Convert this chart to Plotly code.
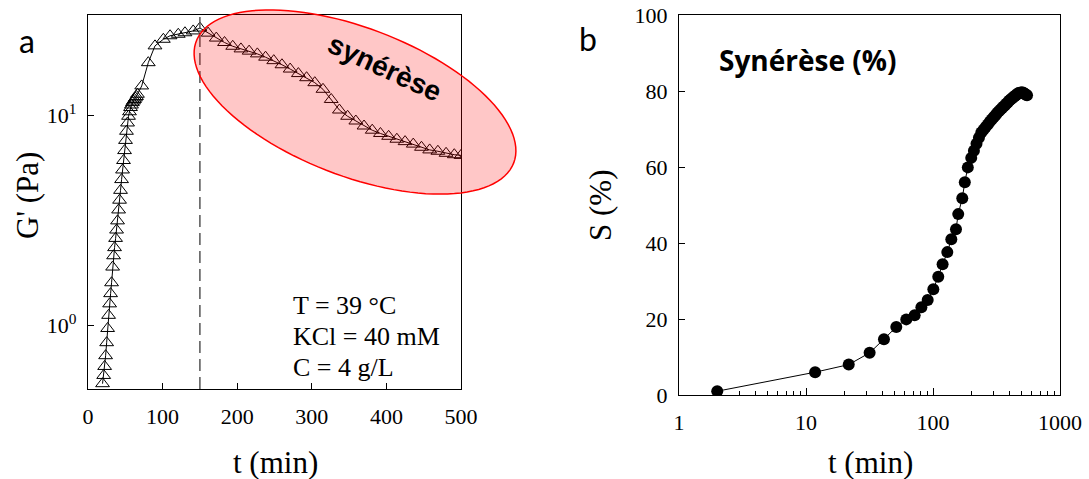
import numpy as np
import plotly.graph_objects as go

# ---- (a) storage modulus G' versus time ----
t_gel = [19.5, 21, 22.3, 23.6, 25, 26.3, 27.6, 29, 30.3, 31.6, 33, 34.3, 35.6, 37,
         38.3, 39.6, 41, 42.3, 43.6, 45, 46.3, 47.6, 49, 50.3, 51.6, 53, 54.3, 55.6,
         57, 58.3, 59.6, 61, 62.3, 63.6, 65, 66.3,
         72, 80.8, 89.8, 101, 110, 121, 130, 141, 150,
         161, 172, 183, 194, 205, 216, 227, 238, 249, 260, 271, 282, 293, 304, 315,
         326, 337, 348, 359, 370, 381, 392, 403, 414, 425, 436, 447, 458, 469, 480,
         491, 500]
g_prime = [0.53, 0.58, 0.64, 0.72, 0.83, 0.97, 1.12, 1.27, 1.42, 1.6, 1.9, 2.15, 2.35, 2.6,
           2.85, 3.15, 3.55, 3.95, 4.4, 4.95, 5.5, 6.1, 6.8, 7.6, 8.4, 9.2, 9.9, 10.4,
           10.9, 11.2, 11.5, 11.7, 11.9, 12.1, 12.3, 12.6,
           13.8, 17.8, 21.4, 23.0, 23.9, 24.3, 24.7, 25.2, 26.0,
           24.6, 23.3, 22.2, 21.3, 20.7, 20.2, 19.6, 18.9, 18.2, 17.4, 16.6, 15.8, 15.1, 14.3, 13.3,
           11.9, 10.6, 9.9, 9.4, 8.9, 8.5, 8.2, 7.95, 7.7, 7.5, 7.3, 7.05, 6.85, 6.75, 6.6,
           6.5, 6.45]
t_onset = 150
x_ticks_a = [0, 100, 200, 300, 400, 500]
y_ticks_a = [1, 10]
y_ticktext_a = ["10<sup>0</sup>", "10<sup>1</sup>"]

# ---- (b) syneresis versus time ----
t_syn = [2, 11.8, 21.7, 31.7, 41.1, 51.4, 61.6, 71.7, 81, 90.8, 100.6, 110, 119, 129.6,
         139.4, 151.7, 158, 170, 178, 188,
         200, 210, 220, 230, 240, 250, 260, 270, 280, 290, 300, 310, 320, 330, 340, 350,
         360, 370, 380, 390, 400, 410, 420, 430, 440, 450, 460, 470, 480, 490, 500, 510,
         520, 530, 540, 550]
s_syn = [1.0, 6.0, 8.0, 11.1, 14.7, 17.9, 19.9, 21.0, 23.1, 25.0, 27.8, 31.1, 34.4, 37.6,
         41.0, 43.6, 47.6, 51.8, 56.0, 59.9,
         62.4, 64.3, 66.1, 67.7, 69.1, 69.8, 70.5, 71.2, 71.9, 72.5, 73.1, 73.6, 74.2, 74.7,
         75.1, 75.5, 75.9, 76.3, 76.7, 77.1, 77.5, 77.8, 78.1, 78.4, 78.7, 78.9, 79.2, 79.4,
         79.5, 79.6, 79.6, 79.6, 79.4, 79.2, 79.0, 78.9]
x_ticks_b = [1, 10, 100, 1000]
x_minor_b = [m * d for d in (1, 10, 100) for m in range(2, 10)]
y_ticks_b = [0, 20, 40, 60, 80, 100]

W, H = 1089, 479
SERIF = "Liberation Serif"


def px(x):
    return x / W


def py(y):
    return 1 - y / H


fig = go.Figure()

fig.add_trace(go.Scatter(
    x=t_gel, y=g_prime, mode="lines+markers", xaxis="x", yaxis="y",
    line=dict(color="black", width=1),
    marker=dict(symbol="triangle-up-open", size=12, color="black",
                line=dict(color="black", width=1)),
    showlegend=False,
))

fig.add_trace(go.Scatter(
    x=t_syn, y=s_syn, mode="lines+markers", xaxis="x2", yaxis="y2",
    line=dict(color="black", width=1),
    marker=dict(symbol="circle", size=12, color="black"),
    showlegend=False,
))

axis_common = dict(
    showline=True, linecolor="black", linewidth=1.2, mirror=True,
    ticks="inside", tickcolor="black", tickwidth=1,
    showgrid=False, zeroline=False, automargin=False,
    tickfont=dict(family=SERIF, size=22, color="black"),
)

fig.update_layout(
    width=W, height=H,
    margin=dict(l=0, r=0, t=0, b=0, autoexpand=False),
    paper_bgcolor="white", plot_bgcolor="white",
    xaxis=dict(axis_common, domain=[px(88), px(461)], range=[0, 500],
               tickmode="array", tickvals=x_ticks_a, ticklen=6,
               ticklabelstandoff=7, anchor="y"),
    yaxis=dict(axis_common, domain=[py(389), py(15)], type="log",
               range=[np.log10(0.5), np.log10(30)],
               tickmode="array", tickvals=y_ticks_a, ticktext=y_ticktext_a,
               ticklen=6, ticklabelstandoff=6, anchor="x"),
    xaxis2=dict(axis_common, domain=[px(679), px(1060)], type="log",
                range=[0, 3], tickmode="array", tickvals=x_ticks_b, ticklen=7,
                minor=dict(tickvals=x_minor_b, ticks="inside", ticklen=4,
                           tickcolor="black", showgrid=False),
                ticklabelstandoff=7, anchor="y2"),
    yaxis2=dict(axis_common, domain=[py(395), py(15)], range=[0, 100],
                tickmode="array", tickvals=y_ticks_b, ticklen=6,
                ticklabelstandoff=6, anchor="x2"),
)

# gel point marker: dashed vertical line at the G' maximum
fig.add_shape(type="line", xref="x", yref="y domain", x0=t_onset, x1=t_onset,
              y0=0, y1=1, line=dict(color="#555555", width=1.5, dash="12px,6px"))

# tilted ellipse highlighting the syneresis stage
cx, cy, a, b, theta = 355, 102, 170, 74, np.radians(21)
s = np.linspace(0, 2 * np.pi, 120)
ex = cx + a * np.cos(s) * np.cos(theta) - b * np.sin(s) * np.sin(theta)
ey = cy + a * np.cos(s) * np.sin(theta) + b * np.sin(s) * np.cos(theta)
path = "M " + " L ".join(f"{px(x):.5f},{py(y):.5f}" for x, y in zip(ex, ey)) + " Z"
fig.add_shape(type="path", xref="paper", yref="paper", path=path,
              fillcolor="rgba(255,0,0,0.22)", line=dict(color="red", width=1.5),
              layer="above")


def label(text, x, y, size, family=SERIF, angle=0, bold=False, xanchor="center",
          color="black"):
    fig.add_annotation(
        text=f"<b>{text}</b>" if bold else text, x=px(x), y=py(y),
        xref="paper", yref="paper", showarrow=False, textangle=angle,
        xanchor=xanchor, yanchor="middle",
        font=dict(family=family, size=size, color=color),
    )


label("synérèse", 384, 68, 28, family="Liberation Sans", angle=25, bold=True)

label("T = 39 °C", 291, 305, 26, xanchor="left")
label("KCl = 40 mM", 291, 336, 26, xanchor="left")
label("C = 4 g/L", 291, 367, 26, xanchor="left")

label("a", 27, 40, 32, family="Lato")
label("b", 588, 38, 32, family="Lato")
label("Synérèse (%)", 808, 60, 28, family="Open Sans", bold=True)

label("G' (Pa)", 27, 196, 31, angle=-90)
label("S (%)", 600, 206, 31, angle=-90)
label("t (min)", 275, 462, 31)
label("t (min)", 870, 462, 31)

fig.write_html("out.html")
